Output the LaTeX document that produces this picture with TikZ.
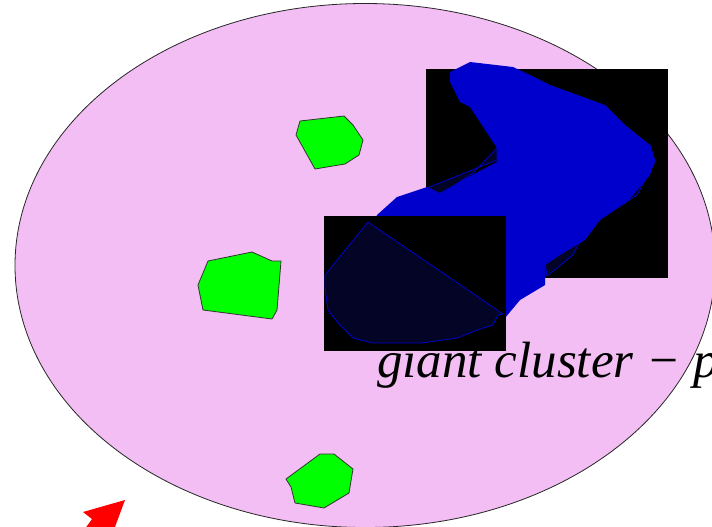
\documentclass[tikz,border=0pt]{standalone}
\usepackage{fontspec}
\setmainfont{Liberation Serif}
\usepackage{tikz}
\usetikzlibrary{positioning}
\definecolor{domainpink}{RGB}{243,190,243}
\definecolor{islandgreen}{RGB}{0,255,0}
\definecolor{clusterblue}{RGB}{0,0,205}
\definecolor{deepnavy}{RGB}{4,4,38}
\definecolor{arrowred}{RGB}{255,0,0}
\tikzset{
  region/.style={draw=black!85,fill=domainpink,line width=.8pt},
  island/.style={draw=black!80,fill=islandgreen,line width=.8pt,line join=round},
  darkbox/.style={fill=black,draw=none},
  shadowpoly/.style={fill=deepnavy,draw=clusterblue,line width=.8pt,line join=round},
  giantcl/.style={fill=clusterblue,draw=none},
  redhead/.style={fill=arrowred,draw=none},
  clustertext/.style={font=\fontsize{51}{60}\selectfont\itshape,inner sep=0pt,anchor=base west},
}
\begin{document}
\begin{tikzpicture}[x=1pt,y=-1pt]
  \useasboundingbox (0,0) rectangle (712,527);
  \clip (0,0) rectangle (712,527);
  % the domain
  \draw[region] (365,265.5) ellipse [x radius=350,y radius=262];
  % small finite clusters
  \draw[island] (300,121) -- (344,116) -- (353,125) -- (363,140) -- (359,155)
    -- (345,164) -- (315,169) -- (296,135) -- cycle;
  \draw[island] (208,261) -- (252,252) -- (272,261) -- (281,261) -- (277,310)
    -- (272,319) -- (203,310) -- (198,285) -- cycle;
  \draw[island] (320,454) -- (334,454) -- (353,469) -- (349,493) -- (324,508)
    -- (295,503) -- (291,487) -- (286,479) -- cycle;
  \node[clustertext] (label) at (377,377) {giant cluster − p};
  % upper box and the giant cluster
  \fill[darkbox] (426,69) rectangle (668,278);
  \draw[shadowpoly] (427,188) -- (497,160) -- (497,148) -- (473,173) -- (440,195) -- cycle;
  \draw[shadowpoly] (650,145) -- (655,162) -- (637,195) -- (600,218) -- (583,235)
    -- (573,255) -- (547,276) -- (545,262) -- (600,215) -- cycle;
  \fill[giantcl] (450,72) -- (470,62) -- (513,67) -- (530,75) -- (550,85) -- (605,105)
    -- (625,125) -- (650,145) -- (655,160) -- (650,175) -- (627,202) -- (600,220)
    -- (585,240) -- (560,255) -- (545,265) -- (545,285) -- (520,300) -- (505,318)
    -- (440,330) -- (370,230) -- (377,215) -- (397,197) -- (427,187) -- (440,193)
    -- (472,175) -- (497,162) -- (497,148) -- (470,107) -- (460,102) -- (450,82) -- cycle;
  % lower box
  \fill[darkbox] (324,216) rectangle (506,351);
  \draw[shadowpoly] (368,222) -- (325,275) -- (325,288) -- (328,310) -- (338,323)
    -- (353,338) -- (372,343) -- (422,343) -- (457,338) -- (480,329) -- (493,325)
    -- (498,315) -- (503,314) -- cycle;
  % arrow head entering from below
  \fill[redhead] (83,512) -- (125,500) -- (112,535) -- (80,535) -- (87,526) -- (92,519) -- cycle;
\end{tikzpicture}
\end{document}
